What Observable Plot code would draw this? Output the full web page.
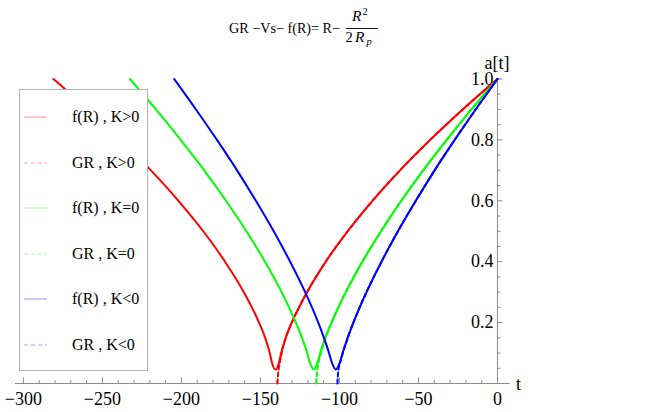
<!DOCTYPE html>
<html><head><meta charset="utf-8">
<script src="https://cdn.jsdelivr.net/npm/d3@7"></script>
<script src="https://cdn.jsdelivr.net/npm/@observablehq/plot@0.6"></script>
<style>
body{margin:0;background:#fff;}
#wrap{position:relative;width:664px;height:412px;font-family:"Liberation Serif","Times New Roman",serif;overflow:hidden;}
#wrap svg.overlay{position:absolute;left:0;top:0;pointer-events:none;}
.legend{position:absolute;left:19px;top:89px;width:127px;height:280px;border:1px solid #b4b4b4;background:#fff;}
.row{position:absolute;left:0;height:20px;margin-top:-10px;width:127px;}
.row svg{position:absolute;left:4px;top:9px;}
.row span{position:absolute;left:52px;top:0;font-size:16px;line-height:20px;white-space:pre;color:#000;}
</style></head>
<body><div id="wrap"></div>
<script>
// ---- data (t, a[t]) ----
// f(R), K>0 (red)
const redFR_t = [-281, -259, -238.4, -219.3, -201.9, -186.2, -172.4, -160.5, -155.4, -150.9, -147, -144.1, -142.8, -140.5, -138.2, -136.9, -134, -130.2, -125.6, -120.5, -108.7, -94.8, -79.1, -61.7, -42.6, -22, 0];
const redFR_a = [1.0, 0.9, 0.8, 0.7, 0.6, 0.5, 0.4, 0.3, 0.25, 0.2, 0.15, 0.1, 0.07, 0.046, 0.07, 0.1, 0.15, 0.2, 0.25, 0.3, 0.4, 0.5, 0.6, 0.7, 0.8, 0.9, 1.0];
// GR, K>0 (red dashed)
const redGR_t = [-139.2, -139.0, -138.5, -137.7, -136.6, -134, -130.2, -125.6, -120.5, -108.7, -94.8, -79.1, -61.7, -42.6, -22, 0];
const redGR_a = [0, 0.02, 0.046, 0.07, 0.1, 0.15, 0.2, 0.25, 0.3, 0.4, 0.5, 0.6, 0.7, 0.8, 0.9, 1.0];
// f(R), K=0 (green)
const greenFR_t = [-232.6, -216.1, -200.5, -185.6, -171.8, -158.9, -147.1, -136.6, -131.9, -127.6, -123.7, -120.4, -118.8, -116.3, -113.8, -112.2, -108.9, -105, -100.7, -96, -85.5, -73.7, -60.9, -47, -32.1, -16.5, 0];
const greenFR_a = [1.0, 0.9, 0.8, 0.7, 0.6, 0.5, 0.4, 0.3, 0.25, 0.2, 0.15, 0.1, 0.07, 0.046, 0.07, 0.1, 0.15, 0.2, 0.25, 0.3, 0.4, 0.5, 0.6, 0.7, 0.8, 0.9, 1.0];
// GR, K=0 (green dashed)
const greenGR_t = [-114.7, -114.5, -114.0, -113.2, -111.8, -108.9, -105, -100.7, -96, -85.5, -73.7, -60.9, -47, -32.1, -16.5, 0];
const greenGR_a = [0, 0.02, 0.046, 0.07, 0.1, 0.15, 0.2, 0.25, 0.3, 0.4, 0.5, 0.6, 0.7, 0.8, 0.9, 1.0];
// f(R), K<0 (blue)
const blueFR_t = [-204.6, -190.8, -177.5, -164.8, -152.9, -141.6, -131.2, -121.7, -117.4, -113.4, -109.8, -106.6, -104.9, -102.3, -99.7, -98, -94.8, -91.2, -87.2, -82.9, -73.4, -63, -51.7, -39.8, -27.1, -13.8, 0];
const blueFR_a = [1.0, 0.9, 0.8, 0.7, 0.6, 0.5, 0.4, 0.3, 0.25, 0.2, 0.15, 0.1, 0.07, 0.046, 0.07, 0.1, 0.15, 0.2, 0.25, 0.3, 0.4, 0.5, 0.6, 0.7, 0.8, 0.9, 1.0];
// GR, K<0 (blue dashed)
const blueGR_t = [-101.3, -101.1, -100.6, -99.5, -97.9, -94.8, -91.2, -87.2, -82.9, -73.4, -63, -51.7, -39.8, -27.1, -13.8, 0];
const blueGR_a = [0, 0.02, 0.046, 0.07, 0.1, 0.15, 0.2, 0.25, 0.3, 0.4, 0.5, 0.6, 0.7, 0.8, 0.9, 1.0];

const legendLabels = ["f(R) , K>0", "GR , K>0", "f(R) , K=0", "GR , K=0", "f(R) , K<0", "GR , K<0"];
const xMajor = [-300, -250, -200, -150, -100, -50, 0];
const xMinor = [-290, -280, -270, -260, -240, -230, -220, -210, -190, -180, -170, -160, -140, -130, -120, -110, -90, -80, -70, -60, -40, -30, -20, -10];
const yMajor = [0.2, 0.4, 0.6, 0.8, 1.0];
const yMinor = [0.05, 0.1, 0.15, 0.25, 0.3, 0.35, 0.45, 0.5, 0.55, 0.65, 0.7, 0.75, 0.85, 0.9, 0.95];
const xAxisStart = -305, xAxisEnd = 8;

// ---- styling ----
const RED = "#ff0000", GREEN = "#00ff00", BLUE = "#0000ff", AXIS = "#8c8c8c";
const seriesDefs = [
  {name: legendLabels[0], t: redFR_t, a: redFR_a, color: RED, dash: null},
  {name: legendLabels[1], t: redGR_t, a: redGR_a, color: RED, dash: "4,3"},
  {name: legendLabels[2], t: greenFR_t, a: greenFR_a, color: GREEN, dash: null},
  {name: legendLabels[3], t: greenGR_t, a: greenGR_a, color: GREEN, dash: "4,3"},
  {name: legendLabels[4], t: blueFR_t, a: blueFR_a, color: BLUE, dash: null},
  {name: legendLabels[5], t: blueGR_t, a: blueGR_a, color: BLUE, dash: "4,3"}
];
const rows = s => s.t.map((t, i) => ({t, a: s.a[i]}));
const minus = d => d < 0 ? "\u2212" + Math.abs(d) : String(d);

const lineMarks = seriesDefs.map(s => Plot.line(rows(s), {
  x: "t", y: "a", stroke: s.color, strokeWidth: 2, curve: "monotone-x",
  strokeDasharray: s.dash || undefined
}));

const chart = Plot.plot({
  width: 664, height: 412,
  marginLeft: 15, marginRight: 167, marginTop: 78.5, marginBottom: 29,
  x: {domain: [-305, 0]},
  y: {domain: [0, 1]},
  style: {fontFamily: "'Liberation Serif', 'Times New Roman', serif", fontSize: "18px", background: "transparent", overflow: "visible"},
  marks: [
    Plot.ruleY([0], {x1: xAxisStart, x2: xAxisEnd, stroke: AXIS}),
    Plot.ruleX([0], {stroke: AXIS}),
    Plot.axisX(xMinor, {anchor: "bottom", tickSize: -3, stroke: AXIS, fill: "none", label: null}),
    Plot.axisX(xMajor, {anchor: "bottom", tickSize: -5.5, stroke: AXIS, fill: "none", label: null}),
    Plot.axisX(xMajor, {anchor: "bottom", tickSize: 0, tickPadding: 9, tickFormat: minus, fill: "black", fontSize: 18, label: null}),
    Plot.axisY(yMinor, {anchor: "right", tickSize: 2.5, stroke: AXIS, fill: "none", label: null}),
    Plot.axisY(yMajor, {anchor: "right", tickSize: 4.5, stroke: AXIS, fill: "none", label: null}),
    Plot.axisY(yMajor, {anchor: "right", tickSize: 0, tickPadding: -4, textAnchor: "end", tickFormat: d => d.toFixed(1), fill: "black", fontSize: 18, label: null}),
    ...lineMarks
  ]
});

const wrap = document.getElementById("wrap");
chart.style.position = "absolute";
chart.style.left = "0px";
chart.style.top = "0px";
wrap.appendChild(chart);

// overlay: title and axis names
const NS = "http://www.w3.org/2000/svg";
const ov = document.createElementNS(NS, "svg");
ov.setAttribute("class", "overlay");
ov.setAttribute("width", 664); ov.setAttribute("height", 412);
ov.setAttribute("font-family", "'Liberation Serif', 'Times New Roman', serif");
ov.innerHTML = `
  <text x="229" y="32.5" font-size="14.5" textLength="111" lengthAdjust="spacingAndGlyphs">GR \u2212Vs\u2212 f(R)= R\u2212</text>
  <text x="352" y="21" font-size="15.5" font-style="italic">R</text>
  <text x="362.5" y="14.5" font-size="10.5">2</text>
  <line x1="346" x2="378" y1="28.5" y2="28.5" stroke="black" stroke-width="0.9"/>
  <text x="345.5" y="41.5" font-size="14.5">2</text>
  <text x="355" y="41.5" font-size="15.5" font-style="italic">R</text>
  <text x="366.5" y="45" font-size="10.5" font-style="italic">p</text>
  <text x="497" y="69" font-size="18" text-anchor="middle">a[t]</text>
  <text x="516" y="390" font-size="18">t</text>`;
wrap.appendChild(ov);

// legend
const leg = document.createElement("div");
leg.className = "legend";
const rowTops = [27, 72.5, 118, 163.5, 209, 254.5];
seriesDefs.forEach((s, i) => {
  const r = document.createElement("div");
  r.className = "row";
  r.style.top = rowTops[i] + "px";
  r.innerHTML = `<svg width="24" height="2"><line x1="0" x2="23" y1="1" y2="1" stroke="${s.color}" stroke-opacity="0.35" stroke-width="1.2" ${s.dash ? 'stroke-dasharray="4,3"' : ''}/></svg><span>${s.name}</span>`;
  leg.appendChild(r);
});
wrap.appendChild(leg);
</script>
</body></html>
